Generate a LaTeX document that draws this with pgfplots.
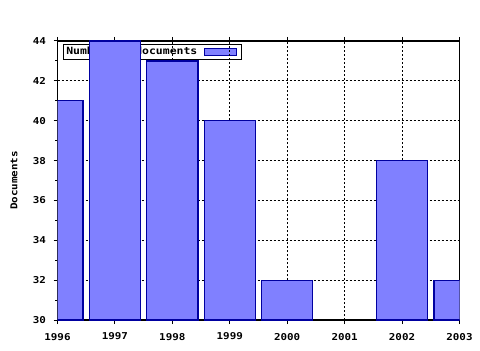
\documentclass[border=0pt]{standalone}
\usepackage{pgfplots}
\pgfplotsset{compat=1.18}
\usepackage{fontspec}
\setmainfont{DejaVu Sans Mono}[FakeStretch=1.15]
\definecolor{barfill}{HTML}{8080FF}
\definecolor{baredge}{HTML}{0000A0}
\begin{document}
\begin{tikzpicture}[x=1bp,y=1bp]
\useasboundingbox (0,0) rectangle (480,350);
\pgfplotsset{common/.style={
  at={(57.5bp,30bp)}, anchor=south west,
  scale only axis, width=402bp, height=279bp,
  xmin=1996, xmax=2003, ymin=30, ymax=44,
  font=\bfseries\fontsize{9.5}{11}\selectfont,
}}
% legend layer (drawn first, behind the bars)
\begin{axis}[common, hide axis,
  legend style={at={(axis description cs:0.0137,0.989)}, anchor=north west,
    draw=black, line width=1bp, fill=white, inner sep=0.8bp, row sep=0pt,
    font=\bfseries\fontsize{10}{11}\selectfont},
  legend cell align=left,
  legend plot pos=right,
  legend image code/.code={\path (0bp,0bp) (40bp,0bp); \draw[#1, line width=1bp] (5bp,-3.5bp) rectangle (37bp,3.5bp);},
]
\addlegendimage{fill=barfill, draw=baredge}
\addlegendentry{Number of documents}
\end{axis}
\begin{axis}[common,
  /pgf/number format/assume math mode=true,
  /pgf/number format/set thousands separator={},
  xtick={1996,1997,...,2003},
  ytick={30,32,...,44},
  xticklabels={1996,1997,1998,1999,2000,2001,2002,2003},
  minor x tick num=3, minor y tick num=1,
  tick align=outside,
  xtick pos=both, ytick pos=left,
  major tick length=4bp, minor tick length=2.5bp,
  every tick/.style={black, line width=1bp},
  axis line style={line width=1.3bp},
  grid=major,
  major grid style={black, line width=1bp, dash pattern=on 2bp off 2bp},
  ylabel={Documents},
  ylabel style={at={(axis description cs:-0.108,0.5)}, anchor=center},
  xticklabel style={yshift=-5.5bp},
  yticklabel style={xshift=-4bp},
]
\addplot[ybar, bar width=0.89, fill=barfill, draw=baredge, line width=1.2bp]
  coordinates {(1996,41) (1997,44) (1998,43) (1999,40) (2000,32) (2002,38) (2003,32)};
\end{axis}
\end{tikzpicture}
\end{document}
